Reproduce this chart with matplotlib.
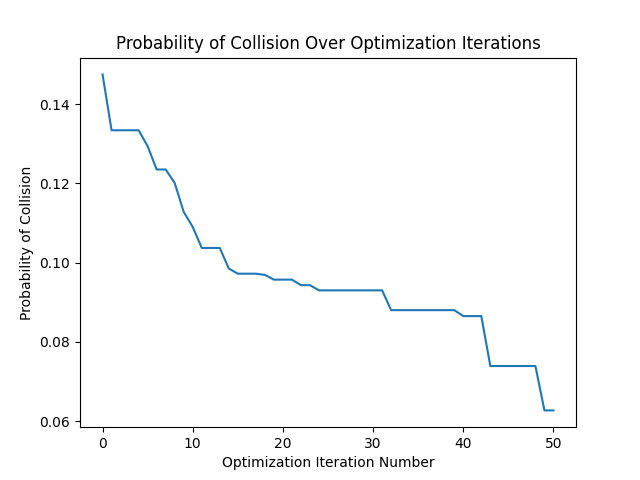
import matplotlib
matplotlib.use("Agg")
from matplotlib import pyplot as plt

# probability of collision at each optimization iteration
iterations = list(range(51))
probabilities = [
    0.1475, 0.1334, 0.1334, 0.1334, 0.1334, 0.1294, 0.1235, 0.1235, 0.1201, 0.1128,
    0.1090, 0.1037, 0.1037, 0.1037, 0.0985, 0.0972, 0.0972, 0.0972, 0.0969, 0.0957,
    0.0957, 0.0957, 0.0943, 0.0943, 0.0930, 0.0930, 0.0930, 0.0930, 0.0930, 0.0930,
    0.0930, 0.0930, 0.0880, 0.0880, 0.0880, 0.0880, 0.0880, 0.0880, 0.0880, 0.0880,
    0.0865, 0.0865, 0.0865, 0.0739, 0.0739, 0.0739, 0.0739, 0.0739, 0.0739, 0.0627,
    0.0627,
]

fig, ax = plt.subplots(figsize=(6.4, 4.8), dpi=100)
ax.plot(iterations, probabilities)
ax.set_title("Probability of Collision Over Optimization Iterations")
ax.set_xlabel("Optimization Iteration Number")
ax.set_ylabel("Probability of Collision")
fig.savefig("out.png")
